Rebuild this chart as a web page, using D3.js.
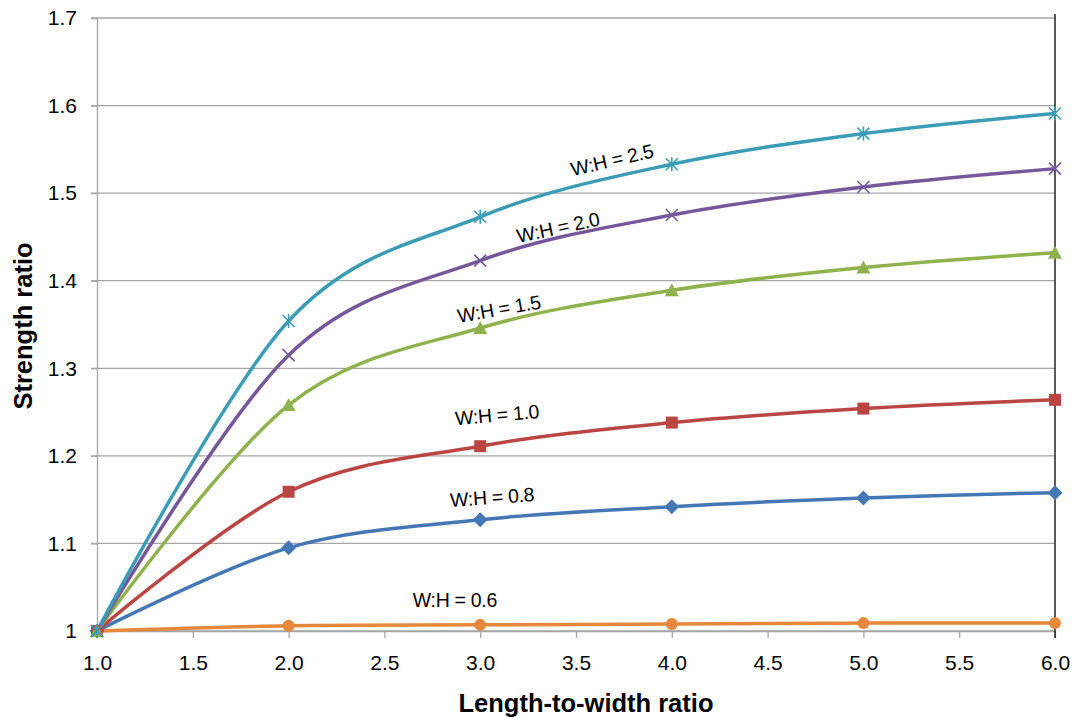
<!DOCTYPE html>
<html><head><meta charset="utf-8">
<script src="https://cdn.jsdelivr.net/npm/d3@7"></script>
<style>body{margin:0;background:#fff}svg{display:block;font-family:"Liberation Sans",Arial,sans-serif}</style>
</head><body><svg id="c" width="1074" height="717"></svg>
<script>
const xValues = [1, 2, 3, 4, 5, 6];
const seriesNames = ["W:H = 0.6","W:H = 0.8","W:H = 1.0","W:H = 1.5","W:H = 2.0","W:H = 2.5"];
const wh06 = [1.0, 1.006, 1.007, 1.008, 1.009, 1.009];
const wh08 = [1.0, 1.095, 1.127, 1.142, 1.152, 1.158];
const wh10 = [1.0, 1.159, 1.211, 1.238, 1.254, 1.264];
const wh15 = [1.0, 1.258, 1.346, 1.389, 1.415, 1.432];
const wh20 = [1.0, 1.315, 1.423, 1.475, 1.507, 1.528];
const wh25 = [1.0, 1.354, 1.473, 1.533, 1.568, 1.591];
const yTicks = [1.0, 1.1, 1.2, 1.3, 1.4, 1.5, 1.6, 1.7];
const yTickLabels = ["1","1.1","1.2","1.3","1.4","1.5","1.6","1.7"];
const xTicks = [1.0,1.5,2.0,2.5,3.0,3.5,4.0,4.5,5.0,5.5,6.0];
const xTickLabels = ["1.0","1.5","2.0","2.5","3.0","3.5","4.0","4.5","5.0","5.5","6.0"];

const colors = ["#E5883C","#4677B5","#B94643","#8FB14E","#76589A","#3C9CB5"];
const markers = ["circle","diamond","square","triangle","x","star"];
const data = [wh06, wh08, wh10, wh15, wh20, wh25];
// label anchor (x, y in data units) and rotation
const labelPos = [[2.868,1.0354,0],[3.062,1.153,-4],[3.088,1.247,-5],[3.098,1.368,-10],[3.406,1.461,-12],[3.688,1.538,-13]];

const svg = d3.select("#c");
const x = d3.scaleLinear().domain([1,6]).range([97,1055]);
const y = d3.scaleLinear().domain([1,1.7]).range([631,18]);

// gridlines
svg.append("g").selectAll("line").data(yTicks).join("line")
  .attr("x1",91).attr("x2",1055).attr("y1",d=>y(d)).attr("y2",d=>y(d))
  .attr("stroke","#A6A6A6").attr("stroke-width",1.3);
// y axis
const yAxis = d3.axisLeft(y).tickValues(yTicks).tickFormat((d,i)=>yTickLabels[i]).tickSize(6).tickPadding(14);
const gy = svg.append("g").attr("transform","translate(97,0)").call(yAxis);
gy.select(".domain").attr("stroke","#A6A6A6").attr("stroke-width",1.3);
gy.selectAll(".tick line").attr("stroke","#A6A6A6").attr("stroke-width",1.3);
gy.selectAll("text").attr("font-size",21).attr("fill","#000");
// x axis
const xAxis = d3.axisBottom(x).tickValues(xTicks).tickFormat((d,i)=>xTickLabels[i]).tickSize(7).tickSizeOuter(0).tickPadding(19);
const gx = svg.append("g").attr("transform","translate(0,631)").call(xAxis);
gx.select(".domain").attr("stroke","#A6A6A6").attr("stroke-width",1.3);
gx.selectAll(".tick line").attr("stroke","#A6A6A6").attr("stroke-width",1.3);
gx.selectAll("text").attr("font-size",21).attr("fill","#000").attr("dy","0.6em");
// right black line
svg.append("line").attr("x1",x(6)).attr("x2",x(6)).attr("y1",14).attr("y2",638).attr("stroke","#000").attr("stroke-width",1.3);

const line = d3.line().x((d,i)=>x(xValues[i])).y(d=>y(d)).curve(d3.curveCardinal.tension(0));

data.forEach((vals,k)=>{
  svg.append("path").attr("d",line(vals)).attr("fill","none").attr("stroke",colors[k]).attr("stroke-width",3.5);
});
data.forEach((vals,k)=>{
  const g = svg.append("g");
  vals.forEach((v,i)=>{
    const cx = x(xValues[i]), cy = y(v), c = colors[k];
    const m = markers[k];
    if (m==="circle") g.append("circle").attr("cx",cx).attr("cy",cy).attr("r",6).attr("fill",c);
    else if (m==="diamond") g.append("path").attr("d",`M${cx},${cy-7.5}L${cx+7.5},${cy}L${cx},${cy+7.5}L${cx-7.5},${cy}Z`).attr("fill",c);
    else if (m==="square") g.append("rect").attr("x",cx-6).attr("y",cy-6).attr("width",12).attr("height",12).attr("fill",c);
    else if (m==="triangle") g.append("path").attr("d",`M${cx},${cy-7}L${cx+7},${cy+6}L${cx-7},${cy+6}Z`).attr("fill",c);
    else if (m==="x") g.append("path").attr("d",`M${cx-6},${cy-6}L${cx+6},${cy+6}M${cx-6},${cy+6}L${cx+6},${cy-6}`).attr("stroke",c).attr("stroke-width",1.6);
    else g.append("path").attr("d",`M${cx-6},${cy-6}L${cx+6},${cy+6}M${cx-6},${cy+6}L${cx+6},${cy-6}M${cx},${cy-7}L${cx},${cy+7}`).attr("stroke",c).attr("stroke-width",1.6);
  });
});

// series labels
seriesNames.forEach((n,k)=>{
  const [lx,ly,rot] = labelPos[k];
  svg.append("text").attr("transform",`translate(${x(lx)},${y(ly)}) rotate(${rot})`)
    .attr("text-anchor","middle").attr("dominant-baseline","central")
    .attr("font-size",19.5).attr("letter-spacing","-0.3").attr("fill","#000").text(n);
});

// axis titles
svg.append("text").attr("x",586).attr("y",712).attr("text-anchor","middle")
  .attr("font-size",25.5).attr("font-weight","bold").text("Length-to-width ratio");
svg.append("text").attr("transform",`translate(32,326) rotate(-90)`).attr("text-anchor","middle")
  .attr("font-size",25.5).attr("font-weight","bold").text("Strength ratio");
</script></body></html>
